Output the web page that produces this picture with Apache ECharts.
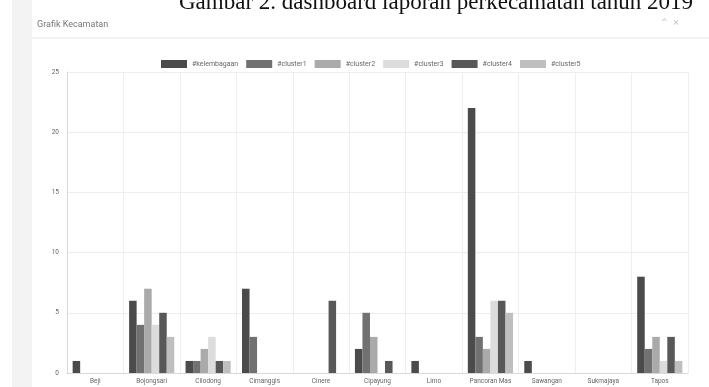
<!DOCTYPE html>
<html>
<head>
<meta charset="utf-8">
<script src="https://cdn.jsdelivr.net/npm/echarts@6/dist/echarts.min.js"></script>
<style>
html, body { margin: 0; padding: 0; background: #fff; }
#chart { width: 709px; height: 387px; }
</style>
</head>
<body>
<div id="chart"></div>
<script>
// data kecamatan
var kecamatan = ['Beji', 'Bojongsari', 'Cilodong', 'Cimanggis', 'Cinere', 'Cipayung', 'Limo', 'Pancoran Mas', 'Sawangan', 'Sukmajaya', 'Tapos'];
var kelembagaan = [1, 6, 1, 7, 0, 2, 1, 22, 1, 0, 8];
var cluster1 = [0, 4, 1, 3, 0, 5, 0, 3, 0, 0, 2];
var cluster2 = [0, 7, 2, 0, 0, 3, 0, 2, 0, 0, 3];
var cluster3 = [0, 4, 3, 0, 0, 0, 0, 6, 0, 0, 1];
var cluster4 = [0, 5, 1, 0, 6, 1, 0, 6, 0, 0, 3];
var cluster5 = [0, 3, 1, 0, 0, 0, 0, 5, 0, 0, 1];
var yTicks = [0, 5, 10, 15, 20, 25];

var namaSeri = ['#kelembagaan', '#cluster1', '#cluster2', '#cluster3', '#cluster4', '#cluster5'];
var dataSeri = [kelembagaan, cluster1, cluster2, cluster3, cluster4, cluster5];
var warna = ['#4b4b4b', '#717171', '#aaaaaa', '#dcdcdc', '#585858', '#bfbfbf'];

var myChart = echarts.init(document.getElementById('chart'));

var serie = [];
for (var i = 0; i < namaSeri.length; i++) {
	serie.push({
		name: namaSeri[i],
		type: 'bar',
		barGap: '0%',
		barCategoryGap: '20%',
		itemStyle: { color: warna[i] },
		data: dataSeri[i]
	});
}

var option = {
	animation: false,
	color: warna,
	graphic: [
		{ type: 'rect', left: 12, top: 0, shape: { width: 20, height: 387 }, style: { fill: '#f3f3f3' } },
		{ type: 'text', left: 179, top: -9, style: { text: 'Gambar 2. dashboard laporan perkecamatan tahun 2019', font: '23px "Liberation Serif"', fill: '#111' } },
		{ type: 'line', shape: { x1: 32, y1: 38, x2: 709, y2: 38 }, style: { stroke: '#e6e6e6', lineWidth: 1 } },
		{ type: 'text', left: 661, top: 19, style: { text: '^  ×', font: '8px "DejaVu Sans"', fill: '#bbb' } }
	],
	title: {
		text: 'Grafik Kecamatan',
		left: 32,
		top: 15,
		textStyle: { fontSize: 9, fontWeight: 'normal', color: '#777', fontFamily: 'Roboto' }
	},
	legend: {
		top: 55,
		left: 156,
		itemWidth: 26,
		itemHeight: 8,
		itemGap: 8,
		icon: 'rect',
		textStyle: { fontSize: 7, color: '#666', fontFamily: 'Roboto' },
		data: namaSeri
	},
	grid: { left: 67, right: 21, top: 72, bottom: 14 },
	xAxis: {
		type: 'category',
		data: kecamatan,
		axisLine: { lineStyle: { color: '#d8d8d8' } },
		axisTick: { show: false },
		axisLabel: { fontSize: 6.5, color: '#666', margin: 5, interval: 0, fontFamily: 'Roboto' },
		splitLine: { show: true, lineStyle: { color: '#eeeeee' } }
	},
	yAxis: {
		type: 'value',
		min: yTicks[0],
		max: yTicks[yTicks.length - 1],
		interval: 5,
		axisLine: { show: true, lineStyle: { color: '#d8d8d8' } },
		axisTick: { show: false },
		axisLabel: { fontSize: 6.5, color: '#666', margin: 8, fontFamily: 'Roboto' },
		splitLine: { lineStyle: { color: '#eeeeee' } }
	},
	series: serie
};

myChart.setOption(option);
</script>
</body>
</html>
